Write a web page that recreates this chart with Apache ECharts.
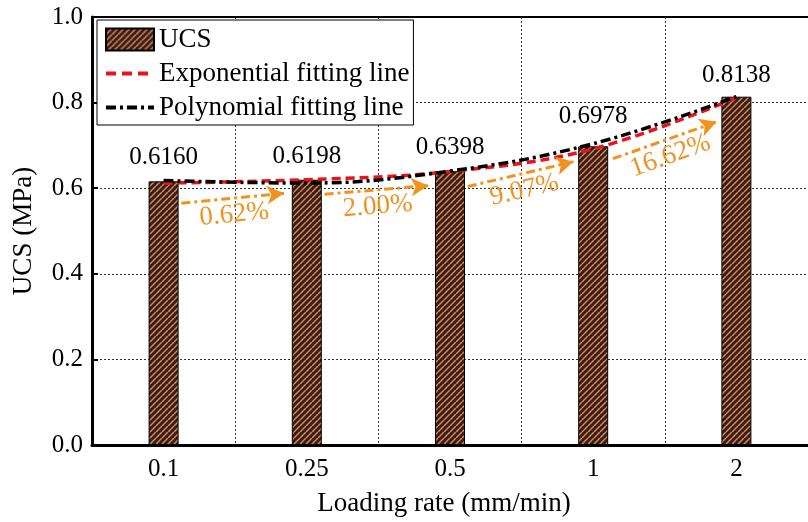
<!DOCTYPE html>
<html><head><meta charset="utf-8">
<script src="https://cdn.jsdelivr.net/npm/echarts@6/dist/echarts.min.js"></script>
<style>html,body{margin:0;padding:0;background:#fff}#c{width:808px;height:522px}</style>
</head><body><div id="c"></div>
<script>
const categories = ['0.1', '0.25', '0.5', '1', '2'];
const ucs = [0.6160, 0.6198, 0.6398, 0.6978, 0.8138];
const expFit = [0.612, 0.620, 0.639, 0.692, 0.812];
const polyFit = [0.618, 0.612, 0.640, 0.704, 0.814];
const growthLabels = ['0.62%', '2.00%', '9.07%', '16.62%'];
const arrowStart = [[0.124, 0.565], [1.124, 0.586], [2.124, 0.604], [3.138, 0.669]];
const arrowEnd = [[0.841, 0.588], [1.848, 0.606], [2.862, 0.662], [3.862, 0.755]];
const yMin = 0, yMax = 1.0, yStep = 0.2;

const FONT = '"Liberation Serif", "Times New Roman", serif';

function hatch() {
  const c = document.createElement('canvas');
  c.width = 6; c.height = 6;
  const g = c.getContext('2d');
  g.fillStyle = '#3a1c12';
  g.fillRect(0, 0, 6, 6);
  g.strokeStyle = '#cf8a60';
  g.lineWidth = 1.5;
  for (let k = -6; k <= 12; k += 6) {
    g.beginPath(); g.moveTo(k, 6); g.lineTo(k + 6, 0); g.stroke();
  }
  return c;
}
const pattern = { image: hatch(), repeat: 'repeat' };

const chart = echarts.init(document.getElementById('c'), null, { renderer: 'canvas' });
const dotted = { color: '#333', width: 1, type: [2, 2] };

chart.setOption({
  animation: false,
  backgroundColor: '#fff',
  grid: { left: 92, top: 17, width: 725, height: 432, containLabel: false },
  legend: {
    orient: 'vertical', left: 97, top: 20,
    itemWidth: 48, itemHeight: 22, itemGap: 7,
    padding: [6, 4, 4, 7],
    borderColor: '#000', borderWidth: 1, backgroundColor: '#fff',
    textStyle: { fontFamily: FONT, fontSize: 27, color: '#000' },
    data: [
      { name: 'UCS', icon: 'rect' },
      { name: 'Exponential fitting line', itemStyle: { opacity: 0 }, lineStyle: { width: 4, type: [10, 6] } },
      { name: 'Polynomial fitting line', itemStyle: { opacity: 0 }, lineStyle: { width: 4, type: [10, 4, 3, 4] } }
    ]
  },
  xAxis: [{
    type: 'category', data: categories, boundaryGap: true,
    axisLine: { lineStyle: { color: '#000', width: 3 } },
    axisTick: { show: false },
    axisLabel: { fontFamily: FONT, fontSize: 25, color: '#000', margin: 12 },
    splitLine: { show: true, lineStyle: dotted },
    name: 'Loading rate (mm/min)', nameLocation: 'middle', nameGap: 45,
    nameTextStyle: { fontFamily: FONT, fontSize: 27, color: '#000', padding: [0, 12, 0, 0] }
  }, {
    type: 'value', min: -0.5, max: 4.5, position: 'top',
    axisLine: { show: true, onZero: false, lineStyle: { color: '#000', width: 2 } },
    axisTick: { show: false }, axisLabel: { show: false }, splitLine: { show: false }
  }],
  yAxis: {
    type: 'value', min: yMin, max: yMax, interval: yStep,
    axisLine: { show: true, onZero: false, lineStyle: { color: '#000', width: 3 } },
    axisTick: { show: true, inside: true, length: 6, lineStyle: { color: '#000', width: 2 } },
    axisLabel: { fontFamily: FONT, fontSize: 25, color: '#000', margin: 9, formatter: v => v.toFixed(1) },
    splitLine: { show: true, lineStyle: dotted },
    name: 'UCS (MPa)', nameLocation: 'middle', nameGap: 55,
    nameTextStyle: { fontFamily: FONT, fontSize: 27, color: '#000' }
  },
  series: [
    {
      name: 'UCS', type: 'bar', barWidth: 30, z: 2,
      data: ucs.map((v, i) => ({ value: v, label: { distance: i === 3 ? 17 : (i === 4 ? 9 : 11) } })),
      itemStyle: { color: pattern, borderColor: '#000', borderWidth: 1 },
      label: { show: true, position: 'top', fontFamily: FONT, fontSize: 25, color: '#000', formatter: p => p.value.toFixed(4) },
      emphasis: { disabled: true }
    },
    {
      name: 'Exponential fitting line', type: 'line', smooth: 0.4, symbol: 'none', z: 4,
      data: expFit,
      lineStyle: { color: '#e8131b', width: 3.5, type: [9, 5] },
      itemStyle: { color: '#e8131b' }
    },
    {
      name: 'Polynomial fitting line', type: 'line', smooth: 0.4, symbol: 'none', z: 5,
      data: polyFit,
      lineStyle: { color: '#000', width: 3.5, type: [10, 4, 3, 4] },
      itemStyle: { color: '#000' }
    },
    {
      name: 'growth', type: 'line', xAxisIndex: 1, symbol: 'none', z: 6,
      data: arrowStart,
      lineStyle: { opacity: 0, width: 0 },
      silent: true,
      markLine: {
        silent: true, animation: false,
        symbol: ['none', 'arrow'], symbolSize: [14, 17],
        lineStyle: { color: '#f0921e', width: 3, type: [9, 4, 3, 4] },
        label: { show: true, position: 'insideMiddleBottom', distance: 3, fontFamily: FONT, fontSize: 27, color: '#f0921e', formatter: p => p.name },
        data: arrowStart.map((s, i) => [
          { coord: s, name: growthLabels[i] },
          { coord: arrowEnd[i] }
        ])
      }
    }
  ]
});
</script></body></html>
